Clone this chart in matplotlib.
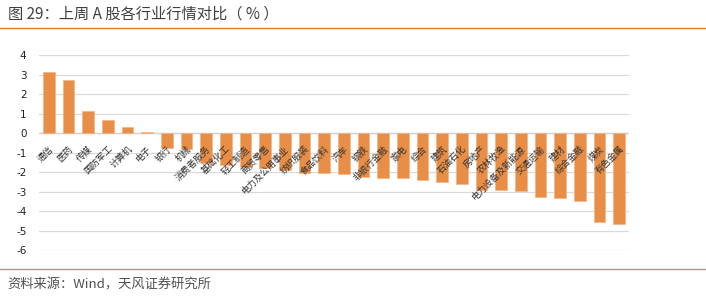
import numpy as np
import matplotlib.pyplot as plt

plt.rcParams['font.family'] = ['Noto Sans CJK SC', 'DejaVu Sans']

industries = ["通信", "医药", "传媒", "国防军工", "计算机", "电子", "银行", "机械",
              "消费者服务", "基础化工", "轻工制造", "商贸零售", "电力及公用事业",
              "纺织服装", "食品饮料", "汽车", "钢铁", "非银行金融", "家电", "综合",
              "建筑", "石油石化", "房地产", "农林牧渔", "电力设备及新能源",
              "交通运输", "建材", "综合金融", "煤炭", "有色金属"]
returns = [3.13, 2.73, 1.13, 0.68, 0.31, 0.08, -0.74, -0.82,
           -1.54, -1.66, -1.73, -1.81, -1.88,
           -2.05, -2.07, -2.12, -2.25, -2.31, -2.31, -2.41,
           -2.51, -2.63, -2.92, -2.94, -2.97,
           -3.27, -3.32, -3.49, -4.55, -4.67]
yticks = [4, 3, 2, 1, 0, -1, -2, -3, -4, -5, -6]

bar_color = '#E98E46'
line_color = '#E07B2A'

fig = plt.figure(figsize=(7.06, 3.01), dpi=100)
ax = fig.add_axes([0.0552, 0.169, 0.8357, 0.648])

x = np.arange(len(industries))
ax.bar(x, returns, width=0.6, color=bar_color, edgecolor='#F2B483', linewidth=0.5, zorder=3)

ax.set_xlim(-0.5, len(industries) - 0.5)
ax.set_ylim(-6, 4)
ax.set_yticks(yticks)
ax.set_yticklabels([str(v) for v in yticks], fontsize=7.5, color='#222222',
                   fontfamily='DejaVu Sans')
ax.tick_params(axis='y', length=0, pad=9)
ax.set_xticks([])
ax.grid(axis='y', color='#D9D9D9', linewidth=0.9, zorder=0)
for s in ax.spines.values():
    s.set_visible(False)
ax.axhline(0, color='#D0D0D0', linewidth=0.9, zorder=2)

# category labels rotated next to the zero line
for i, name in enumerate(industries):
    ax.annotate(name, xy=(i, 0), xytext=(0, -8), textcoords='offset points',
                rotation=45, rotation_mode='anchor', ha='right', va='top',
                fontsize=6.5, color='#333333', zorder=4)

# header and footer
fig.text(0.011, 0.953, "图 29：上周 A 股各行业行情对比（ % ）", fontsize=11,
         color='#404040', ha='left', va='center')
fig.add_artist(plt.Line2D([0, 1], [0.907, 0.907], color=line_color, linewidth=1.0))
fig.add_artist(plt.Line2D([0, 1], [0.106, 0.106], color='#D9894F', linewidth=1.0))
fig.text(0.011, 0.053, "资料来源：Wind，天风证券研究所", fontsize=9.5,
         color='#505050', ha='left', va='center')

plt.savefig("out.png", dpi=100)
